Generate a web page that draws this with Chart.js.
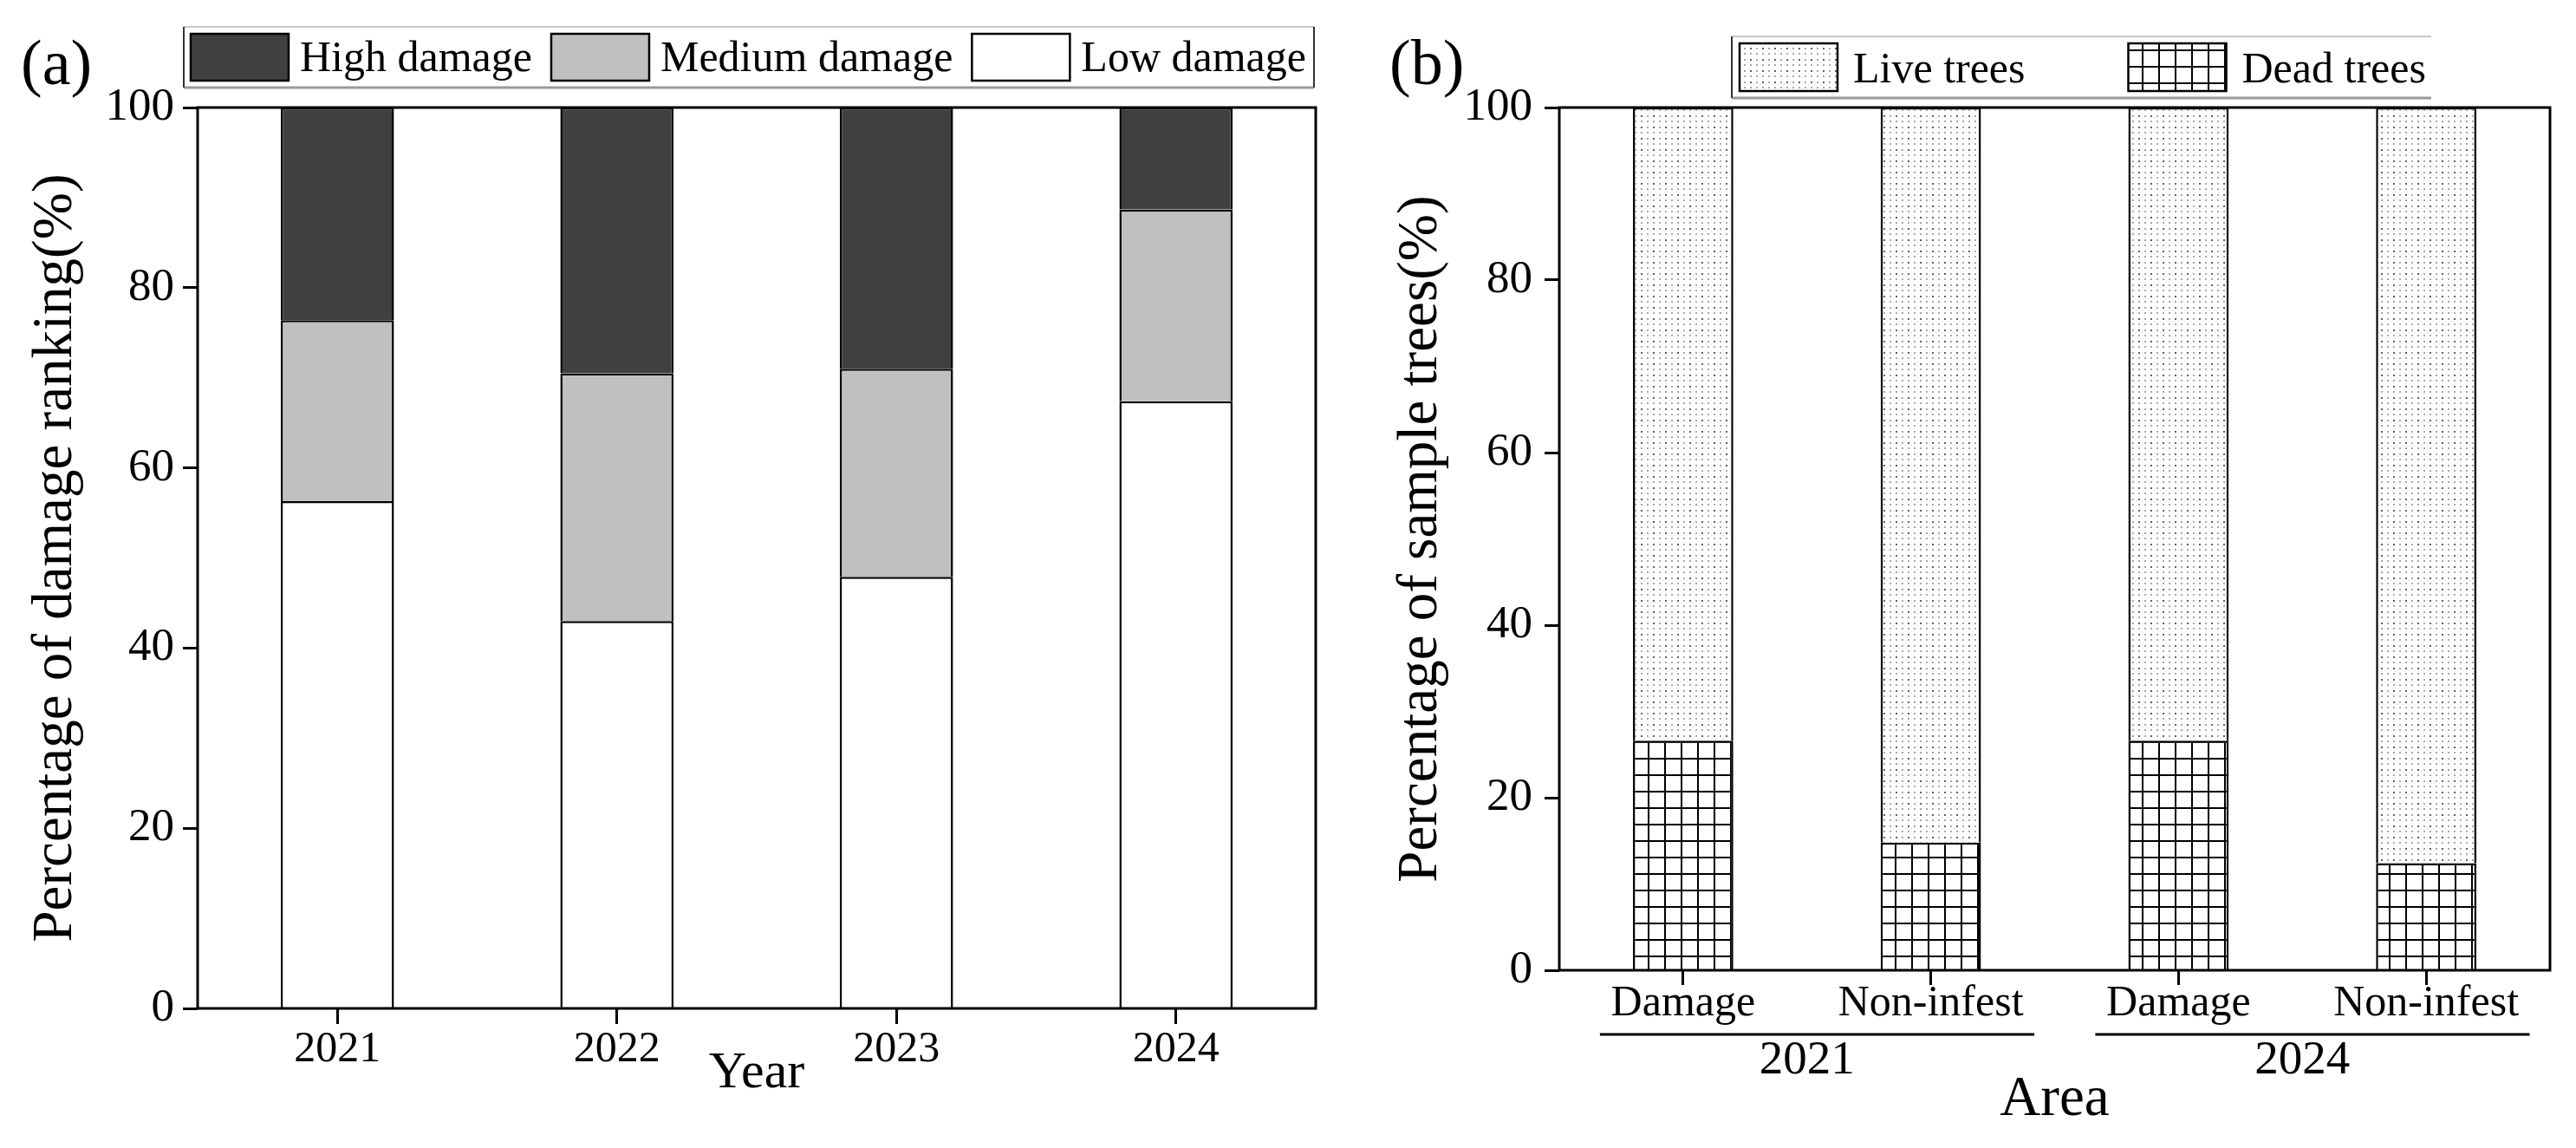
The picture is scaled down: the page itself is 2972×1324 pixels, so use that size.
<!DOCTYPE html>
<html>
<head>
<meta charset="utf-8">
<script src="https://cdn.jsdelivr.net/npm/chart.js@4.4.1/dist/chart.umd.min.js"></script>
<style>
  html, body { margin: 0; padding: 0; background: #fff; }
  #wrap { position: relative; width: 2972px; height: 1324px; overflow: hidden; }
  canvas { position: absolute; top: 0; }
  #chartA { left: 0; }
  #chartB { left: 1540px; }
</style>
</head>
<body>
<div id="wrap">
  <canvas id="chartA" width="1540" height="1324"></canvas>
  <canvas id="chartB" width="1432" height="1324"></canvas>
</div>
<script>
// panel (a) data
const years = ['2021', '2022', '2023', '2024'];
const lowDamage = [56.3, 43.0, 47.9, 67.4];
const mediumDamage = [20.1, 27.5, 23.1, 21.3];
const highDamage = [23.6, 29.5, 29.0, 11.3];

// panel (b) data
const areaLabels = ['Damage', 'Non-infest', 'Damage', 'Non-infest'];
const areaYears = ['2021', '2024'];
const deadTrees = [26.6, 14.8, 26.6, 12.4];
const liveTrees = [73.4, 85.2, 73.4, 87.6];

const percentTicks = [0, 20, 40, 60, 80, 100];

const FONT = "'Liberation Serif', 'Times New Roman', serif";
Chart.defaults.font.family = FONT;
Chart.defaults.color = '#000';

// fill patterns
function dotPattern() {
    const c = document.createElement('canvas');
    c.width = 14; c.height = 13;
    const g = c.getContext('2d');
    g.fillStyle = '#fff';
    g.fillRect(0, 0, 14, 13);
    g.fillStyle = '#5e5e5e';
    g.fillRect(3, 3, 2, 2);
    g.fillStyle = '#a8a8a8';
    g.fillRect(10, 3, 2, 2);
    g.fillRect(3, 9, 2, 2);
    g.fillRect(10, 9, 2, 2);
    g.fillStyle = '#dcdcdc';
    g.fillRect(7, 6, 1, 1);
    g.fillRect(0, 6, 1, 1);
    return g.createPattern(c, 'repeat');
}

function gridPattern() {
    const c = document.createElement('canvas');
    c.width = 19; c.height = 19;
    const g = c.getContext('2d');
    g.fillStyle = '#fff';
    g.fillRect(0, 0, 19, 19);
    g.fillStyle = '#000';
    g.fillRect(0, 0, 2, 19);
    g.fillRect(0, 0, 19, 2);
    return g.createPattern(c, 'repeat');
}

const framePlugin = {
    id: 'frame',
    afterDatasetsDraw(chart) {
        const { ctx, chartArea: a } = chart;
        ctx.save();
        ctx.strokeStyle = '#000';
        ctx.lineWidth = 3;
        ctx.strokeRect(a.left, a.top, a.right - a.left, a.bottom - a.top);
        ctx.restore();
    }
};

// legend drawn from the datasets, top of stack first
function legendPlugin(id, cfg) {
    return {
        id: id,
        afterDraw(chart) {
            const ctx = chart.ctx;
            ctx.save();
            // box lines
            ctx.strokeStyle = '#c8c8c8';
            ctx.lineWidth = 2;
            ctx.beginPath();
            ctx.moveTo(cfg.boxL, cfg.boxT); ctx.lineTo(cfg.boxR, cfg.boxT);
            ctx.stroke();
            ctx.strokeStyle = '#9a9a9a';
            ctx.lineWidth = 3;
            ctx.beginPath();
            ctx.moveTo(cfg.boxL, cfg.boxB); ctx.lineTo(cfg.boxR, cfg.boxB);
            ctx.stroke();
            ctx.strokeStyle = '#333';
            ctx.lineWidth = 2;
            ctx.beginPath();
            ctx.moveTo(cfg.boxL, cfg.boxT); ctx.lineTo(cfg.boxL, cfg.boxB);
            if (cfg.rightLine) { ctx.moveTo(cfg.boxR, cfg.boxT); ctx.lineTo(cfg.boxR, cfg.boxB); }
            ctx.stroke();

            ctx.font = `${cfg.size}px ${FONT}`;
            ctx.textBaseline = 'alphabetic';
            let x = cfg.x;
            chart.data.datasets.slice().reverse().forEach(ds => {
                ctx.fillStyle = ds.backgroundColor;
                ctx.fillRect(x, cfg.top, cfg.w, cfg.h);
                ctx.strokeStyle = '#000';
                ctx.lineWidth = 2.5;
                ctx.strokeRect(x, cfg.top, cfg.w, cfg.h);
                ctx.fillStyle = '#000';
                ctx.fillText(ds.label, x + cfg.w + cfg.gap, cfg.base);
                x += cfg.w + cfg.gap + ctx.measureText(ds.label).width + cfg.space;
            });
            ctx.restore();
        }
    };
}

function panelLabel(text, x, y) {
    return {
        id: 'panelLabel',
        afterDraw(chart) {
            const ctx = chart.ctx;
            ctx.save();
            ctx.font = `74px ${FONT}`;
            ctx.fillStyle = '#000';
            ctx.textBaseline = 'alphabetic';
            ctx.fillText(text, x, y);
            ctx.restore();
        }
    };
}

// underline under each year group of panel (b)
const groupLinePlugin = {
    id: 'groupLines',
    afterDraw(chart) {
        const s = chart.scales.x2;
        const ctx = chart.ctx;
        const gw = s.width / areaYears.length;
        ctx.save();
        ctx.strokeStyle = '#000';
        ctx.lineWidth = 3;
        areaYears.forEach((y, i) => {
            const c = s.getPixelForTick(i);
            ctx.beginPath();
            ctx.moveTo(c - gw / 2 + 0.082 * gw, s.top + 1);
            ctx.lineTo(c + gw / 2 - 0.041 * gw, s.top + 1);
            ctx.stroke();
        });
        ctx.restore();
    }
};

function tickGrid(len) {
    return { display: true, offset: false, drawOnChartArea: false, drawTicks: true,
             tickLength: len, tickWidth: 3, tickColor: '#000' };
}

function yScale(title, width, pad) {
    return {
        stacked: true,
        min: 0,
        max: 100,
        afterBuildTicks: s => { s.ticks = percentTicks.map(v => ({ value: v })); },
        grid: tickGrid(17),
        border: { display: false },
        ticks: { font: { size: 53 }, padding: pad, color: '#000' },
        title: { display: true, text: title, font: { size: 65 }, color: '#000', padding: 0 },
        afterFit: s => { s.width = width; }
    };
}

new Chart(document.getElementById('chartA'), {
    type: 'bar',
    data: {
        labels: years,
        datasets: [
            { label: 'Low damage', data: lowDamage, backgroundColor: '#ffffff' },
            { label: 'Medium damage', data: mediumDamage, backgroundColor: '#c0c0c0' },
            { label: 'High damage', data: highDamage, backgroundColor: '#404040' }
        ]
    },
    options: {
        responsive: false,
        animation: false,
        devicePixelRatio: 1,
        layout: { padding: { left: 26, right: 22, top: 124, bottom: 50 } },
        datasets: { bar: { borderColor: '#000', borderWidth: 2.5, barPercentage: 0.405, categoryPercentage: 1 } },
        plugins: { legend: { display: false }, tooltip: { enabled: false } },
        scales: {
            x: {
                stacked: true,
                offset: true,
                grid: tickGrid(18),
                border: { display: false },
                ticks: { font: { size: 50 }, padding: 0, color: '#000', maxRotation: 0 },
                title: { display: true, text: 'Year', font: { size: 60 }, color: '#000', padding: 0 },
                afterFit: s => { s.height = 111; }
            },
            y: yScale('Percentage of damage ranking(%)', 202, 10)
        }
    },
    plugins: [
        framePlugin,
        legendPlugin('legendA', { boxL: 212, boxT: 31, boxR: 1516, boxB: 101, rightLine: true,
            x: 220, top: 39, w: 113, h: 54, gap: 13, space: 22, size: 50, base: 82 }),
        panelLabel('(a)', 24, 97)
    ]
});

const dots = dotPattern();
const grid = gridPattern();

new Chart(document.getElementById('chartB'), {
    type: 'bar',
    data: {
        labels: areaLabels,
        datasets: [
            { label: 'Dead trees', data: deadTrees, backgroundColor: grid },
            { label: 'Live trees', data: liveTrees, backgroundColor: dots }
        ]
    },
    options: {
        responsive: false,
        animation: false,
        devicePixelRatio: 1,
        layout: { padding: { left: 61, right: 30, top: 124, bottom: 16 } },
        datasets: { bar: { borderColor: '#000', borderWidth: 2.5, barPercentage: 0.405, categoryPercentage: 1 } },
        plugins: { legend: { display: false }, tooltip: { enabled: false } },
        scales: {
            x: {
                stacked: true,
                offset: true,
                weight: 0,
                grid: tickGrid(17),
                border: { display: false },
                ticks: { font: { size: 50, lineHeight: 1 }, padding: -3, color: '#000', maxRotation: 0 },
                afterFit: s => { s.height = 73; }
            },
            x2: {
                type: 'category',
                labels: areaYears,
                position: 'bottom',
                weight: 1,
                offset: true,
                grid: { display: false, drawTicks: false },
                border: { display: false },
                ticks: { font: { size: 55, lineHeight: 1 }, padding: 4, color: '#000', maxRotation: 0 },
                title: { display: true, text: 'Area', font: { size: 65 }, color: '#000', padding: 0 },
                afterFit: s => { s.height = 116; }
            },
            y: yScale('Percentage of sample trees(%)', 198, 14)
        }
    },
    plugins: [
        framePlugin,
        groupLinePlugin,
        legendPlugin('legendB', { boxL: 458, boxT: 42, boxR: 1265, boxB: 113, rightLine: false,
            x: 467, top: 50, w: 113, h: 55, gap: 18, space: 119, size: 50, base: 95 }),
        panelLabel('(b)', 63, 97)
    ]
});
</script>
</body>
</html>
